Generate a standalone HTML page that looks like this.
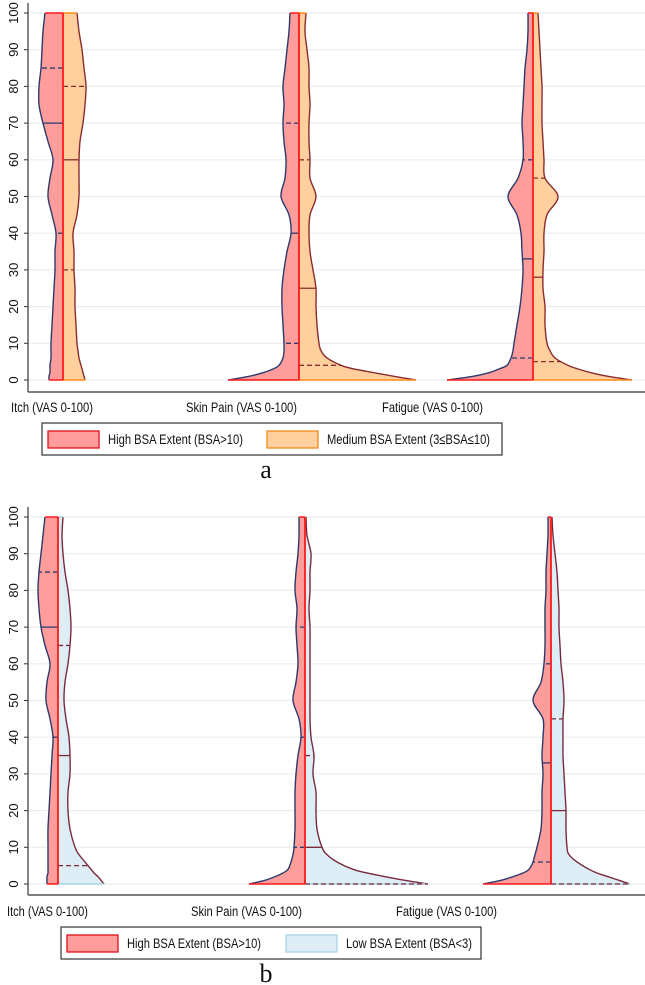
<!DOCTYPE html>
<html><head><meta charset="utf-8">
<style>
html,body{margin:0;padding:0;background:#fff;}
svg{display:block;font-family:"Liberation Sans",sans-serif;}
</style></head>
<body>
<svg id="chart" width="645" height="985" viewBox="0 0 645 985" xmlns="http://www.w3.org/2000/svg"></svg>
<script>
const categories = ["Itch (VAS 0-100)", "Skin Pain (VAS 0-100)", "Fatigue (VAS 0-100)"];
const yTicks = [0,10,20,30,40,50,60,70,80,90,100];
const ysFine = [0,1,2,3,4,6,8,10,15,20,25,30,35,40,45,50,55,60,65,70,75,80,85,90,95,100];
// density half-widths, panel a
const aItchHigh = [14,14,13,13,13,12,12,12,11,10,9,8,8,7,11,15,13,10,15,20,24,24,22,21,20,18];
const aItchMed  = [22,21,20,19,18,16,15,14,13,12,12,11,11,10,14,16,16,16,17,20,22,23,21,19,16,14];
const aSkinHigh = [71,50,36,26,20,16,15,15,16,17,17,15,12,8,10,18,14,13,15,16,15,16,14,12,10,9];
const aSkinMed  = [117,95,75,55,42,28,22,20,18,17,17,14,11,10,11,17,11,11,10,10,11,10,10,8,6,7];
const aFatHigh  = [86,60,44,34,26,22,20,19,16,13,11,10,11,12,16,25,15,10,10,11,10,9,8,6,5,5];
const aFatMed   = [99,75,58,45,35,22,17,14,12,12,10,10,11,11,14,25,12,11,10,9,9,9,8,7,6,5];
// panel b
const bItchHigh = [11,11,11,10,10,10,10,10,10,9,8,7,6,5,8,12,11,8,13,17,19,20,19,17,15,13];
const bItchLow  = [46,43,40,36,33,27,21,17,12,10,10,12,12,11,8,6,7,10,12,13,12,10,7,5,4,5];
const bSkinHigh = [56,40,30,22,17,14,12,11,10,10,10,9,7,4,6,12,9,7,8,9,8,10,9,7,6,6];
const bSkinLow  = [123,100,80,62,48,32,22,17,12,11,11,8,9,6,5,5,5,5,5,5,4,5,5,6,2,1];
const bFatHigh  = [68,50,38,28,22,18,16,14,10,9,9,8,9,8,8,18,10,7,6,6,6,5,5,4,3,3];
const bFatLow   = [79,68,57,46,38,26,18,16,15,15,14,13,12,12,12,13,12,10,9,8,8,7,6,4,2,1];
// quartile markers [p25, median, p75]
const aQHigh = [[40,70,85],[10,40,70],[6,33,60]];
const aQMed  = [[30,60,80],[4,25,60],[5,28,55]];
const bQHigh = [[40,70,85],[10,40,70],[6,33,60]];
const bQLow  = [[5,35,65],[0,10,35],[0,20,45]];

const NS="http://www.w3.org/2000/svg";
const svg=document.getElementById('chart');
function mk(tag,attrs,parent){const e=document.createElementNS(NS,tag);for(const k in attrs)e.setAttribute(k,attrs[k]);(parent||svg).appendChild(e);return e;}
function smooth(pts){
  let d=`M${pts[0][0]},${pts[0][1]}`;
  for(let i=0;i<pts.length-1;i++){
    const p0=pts[Math.max(0,i-1)],p1=pts[i],p2=pts[i+1],p3=pts[Math.min(pts.length-1,i+2)];
    const c1=[p1[0]+(p2[0]-p0[0])/6,p1[1]+(p2[1]-p0[1])/6];
    const c2=[p2[0]-(p3[0]-p1[0])/6,p2[1]-(p3[1]-p1[1])/6];
    d+=` C${c1[0]},${c1[1]} ${c2[0]},${c2[1]} ${p2[0]},${p2[1]}`;
  }
  return d;
}

function panel(cfg){
  const g=mk('g',{});
  
  
  const y=v=>cfg.y0-(v/100)*(cfg.y0-cfg.y100);
  yTicks.forEach(t=>{
    const gl=mk('line',{x1:28,x2:645,y1:y(t),y2:y(t),stroke:'#e6eef3','stroke-width':1.2},g);
    
    
    mk('line',{x1:24,x2:28,y1:y(t),y2:y(t),stroke:'#333','stroke-width':1},g);
    const tx=mk('text',{x:0,y:0,'font-size':13,fill:'#111','text-anchor':'middle',transform:`translate(18,${y(t)}) rotate(-90)`},g);
    tx.textContent=t;
    
    
  });
  mk('line',{x1:28,x2:28,y1:cfg.y100-10,y2:cfg.axisY,stroke:'#444','stroke-width':1.3},g);
  mk('line',{x1:28,x2:645,y1:cfg.axisY,y2:cfg.axisY,stroke:'#555','stroke-width':1.6},g);
  cfg.centers.forEach((cx,i)=>{
    [[cfg.left[i],-1,cfg.leftStyle,cfg.qL[i]],[cfg.right[i],1,cfg.rightStyle,cfg.qR[i]]].forEach(([w,dir,st,q])=>{
      const pts=ysFine.map((yy,k)=>[cx+dir*w[k],y(yy)]);
      const curve=smooth(pts);
      const p=mk('path',{d:`M${cx},${y(0)} L`+curve.slice(1)+` L${cx},${y(100)} Z`,fill:st.fill,stroke:'none'},g);
      
      
      mk('path',{d:curve,fill:'none',stroke:st.outline,'stroke-width':1.4,'stroke-linejoin':'round'},g);
      mk('line',{x1:cx,x2:cx+dir*w[0],y1:y(0),y2:y(0),stroke:st.edge,'stroke-width':1.5},g);
      mk('line',{x1:cx,x2:cx+dir*w[w.length-1],y1:y(100),y2:y(100),stroke:st.edge,'stroke-width':1.5},g);
      q.forEach((qv,j)=>{
        let k=0; while(k<ysFine.length-1&&ysFine[k+1]<qv)k++;
        const t=(qv-ysFine[k])/((ysFine[k+1]-ysFine[k])||1);
        const ww=w[k]+(w[k+1]-w[k])*Math.min(1,Math.max(0,t));
        const ql=mk('line',{x1:cx,x2:cx+dir*ww,y1:y(qv),y2:y(qv),stroke:st.outline,'stroke-width':1.3,'stroke-dasharray':j===1?'none':'5,3'},g);
        
        
      });
    });
    mk('line',{x1:cx,x2:cx,y1:y(0),y2:y(100),stroke:'#ff1a1a','stroke-width':1.8},g);
    const lb=mk('text',{x:cfg.labelX[i],y:cfg.labelY,'font-size':13.5,fill:'#111',textLength:cfg.labelW[i],lengthAdjust:'spacingAndGlyphs'},g);
    lb.textContent=categories[i];
    
    
  });
  const L=cfg.legend;
  const lg=mk('rect',{x:L.x,y:L.y,width:L.w,height:32,fill:'#fff',stroke:'#333','stroke-width':1.2},g);
  
  
  [[L.s1,cfg.leftStyle,L.t1,L.w1],[L.s2,cfg.rightStyle,L.t2,L.w2]].forEach(([sx,st,tt,tw])=>{
    const r=mk('rect',{x:sx,y:L.y+8,width:51,height:17,fill:st.fill,stroke:st.legendEdge,'stroke-width':1.3},g);
    
    
    const t=mk('text',{x:sx+60,y:L.y+21,'font-size':13.5,fill:'#111',textLength:tw,lengthAdjust:'spacingAndGlyphs'},g);
    t.textContent=tt;
    
    
  });
  const pl=mk('text',{x:266,y:cfg.letterY,'font-size':26,'font-family':'"Liberation Serif",serif','text-anchor':'middle',fill:'#111'},g);
  pl.textContent=cfg.letter;
  
  
}
const high={fill:'#ff9c9c',outline:'#2b3a6b',edge:'#ff1a1a',legendEdge:'#e0101a'};
panel({name:'panel-a',y0:380,y100:13,axisY:392,centers:[63,299,533],
  left:[aItchHigh,aSkinHigh,aFatHigh],right:[aItchMed,aSkinMed,aFatMed],qL:aQHigh,qR:aQMed,
  leftStyle:high,rightStyle:{fill:'#ffcf9e',outline:'#8b2c2c',edge:'#ff8c1a',legendEdge:'#f08a1a'},
  labelX:[11,186,382],labelW:[82,111,101],labelY:412,
  legend:{x:42,y:423,w:460,s1:48,s2:267,t1:'High BSA Extent (BSA>10)',t2:'Medium BSA Extent (3≤BSA≤10)',w1:135,w2:163},
  letter:'a',letterY:478});
panel({name:'panel-b',y0:884,y100:517,axisY:895,centers:[58,305,551],
  left:[bItchHigh,bSkinHigh,bFatHigh],right:[bItchLow,bSkinLow,bFatLow],qL:bQHigh,qR:bQLow,
  leftStyle:high,rightStyle:{fill:'#dcedf5',outline:'#7a2a3c',edge:'#a8d4e6',legendEdge:'#a8d4e6'},
  labelX:[7,191,396],labelW:[81,111,101],labelY:916,
  legend:{x:61,y:927,w:420,s1:67,s2:286,t1:'High BSA Extent (BSA>10)',t2:'Low BSA Extent (BSA<3)',w1:134,w2:126},
  letter:'b',letterY:982});
</script>
</body></html>
